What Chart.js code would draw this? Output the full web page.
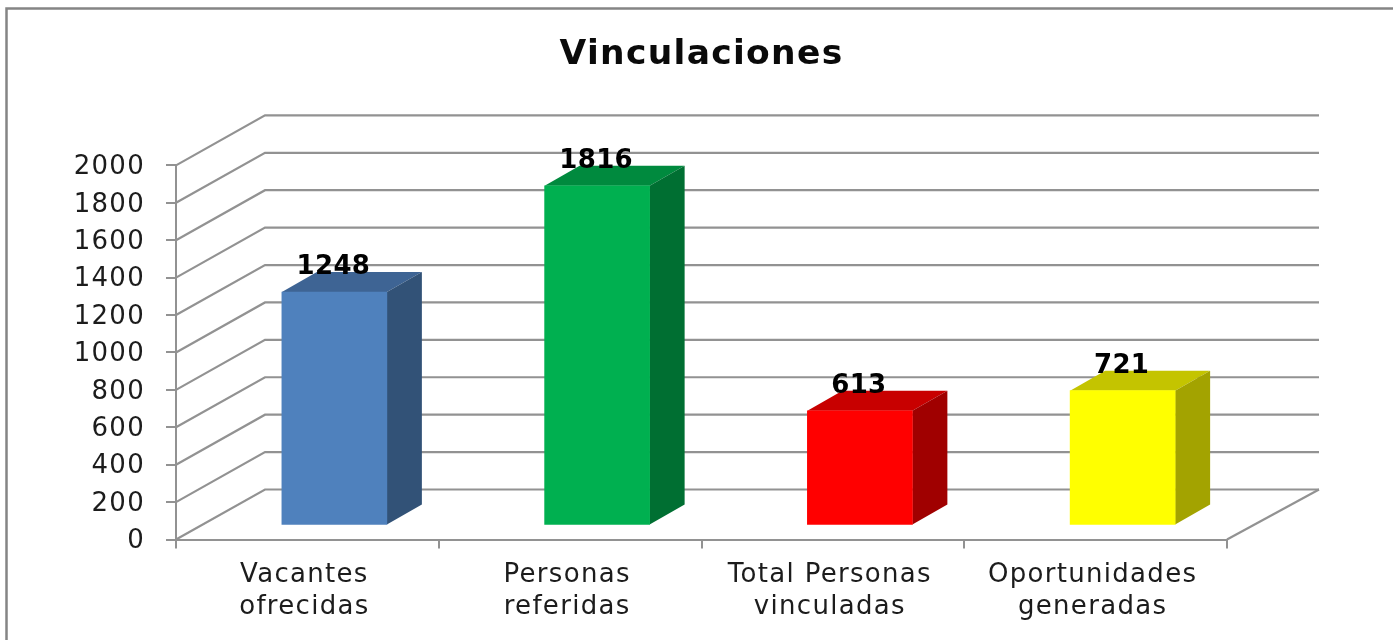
<!DOCTYPE html>
<html>
<head>
<meta charset="utf-8">
<style>
html,body{margin:0;padding:0;background:#fff;overflow:hidden}
canvas{display:block;filter:blur(0.5px)}
</style>
<script src="https://cdn.jsdelivr.net/npm/chart.js@4"></script>
</head>
<body>
<canvas id="c" width="1393" height="640"></canvas>
<script>
const categories = [["Vacantes","ofrecidas"],["Personas","referidas"],["Total Personas","vinculadas"],["Oportunidades","generadas"]];
const values = [1248, 1816, 613, 721];
const frontColors = ["#4F81BD","#00B050","#FF0000","#FFFF00"];
const topColors = ["#3E6494","#008A3E","#C80000","#C4C400"];
const sideColors = ["#325277","#006F32","#A00000","#A3A300"];
const lineGray = "#929292";
const wallDX = 89, wallDY = -50;     // depth of the 3D box
const barDX = 27, barDY = -14;       // bar placement inside the floor
const depthDX = 35, depthDY = -20;   // depth of each bar

function poly(ctx, pts, fill){
  ctx.beginPath();
  pts.forEach((p,i)=> i ? ctx.lineTo(p[0],p[1]) : ctx.moveTo(p[0],p[1]));
  ctx.closePath(); ctx.fillStyle = fill; ctx.fill();
}

const box3d = {
  id:'box3d',
  beforeDraw(chart){
    const ctx = chart.ctx;
    ctx.letterSpacing = '1.3px';
    ctx.save();
    ctx.strokeStyle = '#858585'; ctx.lineWidth = 2.5;
    ctx.beginPath(); ctx.moveTo(6.5,640); ctx.lineTo(6.5,8.5); ctx.lineTo(1393,8.5); ctx.stroke();
    ctx.restore();
  },
  beforeDatasetsDraw(chart){
    const ctx = chart.ctx, y = chart.scales.y, a = chart.chartArea;
    ctx.save();
    ctx.strokeStyle = lineGray; ctx.lineWidth = 2.2;
    y.ticks.forEach(t=>{
      const p = y.getPixelForValue(t.value);
      ctx.beginPath();
      ctx.moveTo(a.left,p); ctx.lineTo(a.left+wallDX,p+wallDY); ctx.lineTo(a.right+wallDX+3,p+wallDY);
      ctx.stroke();
    });
    const p0 = y.getPixelForValue(0);
    ctx.beginPath(); ctx.moveTo(a.right,p0); ctx.lineTo(a.right+wallDX+3,p0+wallDY); ctx.stroke();
    // side and top faces of the bars
    const meta = chart.getDatasetMeta(0);
    meta.data.forEach((b,i)=>{
      const l = b.x-b.width/2+barDX, r = b.x+b.width/2+barDX, t = b.y+barDY, bt = b.base+barDY;
      poly(ctx,[[l,t],[l+depthDX,t+depthDY],[r+depthDX,t+depthDY],[r,t]],topColors[i]);
      poly(ctx,[[r,t],[r+depthDX,t+depthDY],[r+depthDX,bt+depthDY],[r,bt]],sideColors[i]);
    });
    ctx.restore();
    ctx.save();
    ctx.translate(barDX,barDY);
  },
  afterDatasetsDraw(chart){
    const ctx = chart.ctx;
    ctx.restore();
    ctx.save();
    ctx.font = 'bold 26px "DejaVu Sans"';
    ctx.letterSpacing = '0.4px';
    ctx.textAlign = 'center'; ctx.textBaseline = 'alphabetic';
    ctx.fillStyle = '#000';
    chart.getDatasetMeta(0).data.forEach((b,i)=>{
      ctx.fillText(String(values[i]), b.x+barDX-1, b.y+barDY-18);
    });
    ctx.restore();
  }
};

new Chart(document.getElementById('c'),{
  type:'bar',
  data:{labels:categories,datasets:[{data:values,backgroundColor:frontColors,barThickness:105,borderWidth:0}]},
  plugins:[box3d],
  options:{
    responsive:false,
    animation:false,
    layout:{padding:{left:0,right:166,top:0,bottom:0}},
    plugins:{
      legend:{display:false},
      tooltip:{enabled:false},
      title:{display:true,text:'Vinculaciones',fullSize:false,color:'#0a0a0a',
        font:{family:'"DejaVu Sans"',size:34.5,weight:'bold',lineHeight:1.2},
        padding:{top:34,bottom:90}}
    },
    scales:{
      x:{
        afterFit(s){s.height=100.5;},
        grid:{drawOnChartArea:false,drawTicks:true,tickLength:9,color:lineGray,lineWidth:2},
        border:{display:true,color:lineGray,width:2},
        ticks:{color:'#1c1c1c',padding:11,labelOffset:-3,maxRotation:0,autoSkip:false,
          font:{family:'"DejaVu Sans"',size:26,lineHeight:1.23}}
      },
      y:{
        min:0,max:2000,
        afterFit(s){s.width=176;},
        grid:{drawOnChartArea:false,drawTicks:true,tickLength:10,color:lineGray,lineWidth:2},
        border:{display:true,color:lineGray,width:2},
        ticks:{stepSize:200,color:'#1c1c1c',padding:21,labelOffset:2,
          callback:v=>String(v),
          font:{family:'"DejaVu Sans"',size:26}}
      }
    }
  }
});
</script>
</body>
</html>
